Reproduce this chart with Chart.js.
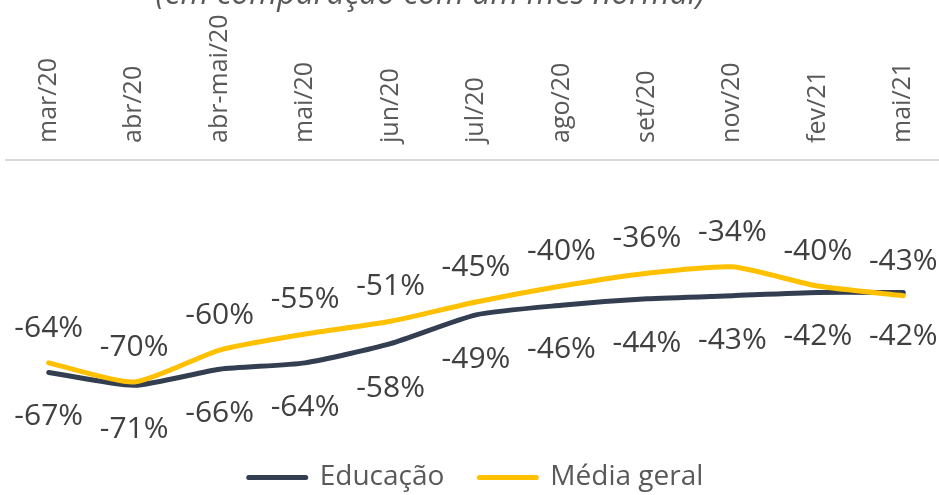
<!DOCTYPE html>
<html>
<head>
<meta charset="utf-8">
<script src="https://cdn.jsdelivr.net/npm/chart.js@4/dist/chart.umd.min.js"></script>
<style>
  html, body { margin: 0; padding: 0; background: #fff; overflow: hidden; }
  #wrap { position: relative; width: 958px; height: 495px; }
</style>
</head>
<body>
<div id="wrap"><canvas id="chart"></canvas></div>
<script>
  const months = ['mar/20', 'abr/20', 'abr-mai/20', 'mai/20', 'jun/20', 'jul/20', 'ago/20', 'set/20', 'nov/20', 'fev/21', 'mai/21'];
  const educacao = [-67, -71, -66, -64, -58, -49, -46, -44, -43, -42, -42];
  const mediaGeral = [-64, -70, -60, -55, -51, -45, -40, -36, -34, -40, -43];

  const NAVY = '#333F50';
  const YELLOW = '#FFC000';
  const GRAY = '#595959';
  const FONT = '"Open Sans", "Noto Sans", sans-serif';
  const TICK_SIZE = 25;

  // value labels: media geral above the line, educacao below
  const valueLabels = {
    id: 'valueLabels',
    afterDatasetsDraw(chart) {
      const ctx = chart.ctx;
      ctx.save();
      ctx.font = '30px ' + FONT;
      ctx.fillStyle = '#404040';
      ctx.textAlign = 'center';
      ctx.textBaseline = 'alphabetic';
      chart.data.datasets.forEach((ds, i) => {
        const meta = chart.getDatasetMeta(i);
        meta.data.forEach((pt, j) => {
          const dy = ds.labelSide === 'above' ? -26 : 53;
          ctx.fillText(ds.data[j] + '%', pt.x, pt.y + dy);
        });
      });
      ctx.restore();
    }
  };

  new Chart(document.getElementById('chart'), {
    type: 'line',
    data: {
      labels: months,
      datasets: [
        {
          label: 'Educação',
          data: educacao,
          borderColor: NAVY,
          backgroundColor: NAVY,
          borderWidth: 5,
          borderCapStyle: 'round',
          pointRadius: 0,
          tension: 0.2,
          labelSide: 'below',
          order: 1
        },
        {
          label: 'Média geral',
          data: mediaGeral,
          borderColor: YELLOW,
          backgroundColor: YELLOW,
          borderWidth: 5,
          borderCapStyle: 'round',
          pointRadius: 0,
          tension: 0.2,
          labelSide: 'above',
          order: 0
        }
      ]
    },
    options: {
      responsive: true,
      maintainAspectRatio: false,
      animation: false,
      layout: { padding: { left: 6, right: 12, top: 0, bottom: -9 } },
      scales: {
        x: {
          position: 'top',
          offset: true,
          grid: { display: false, drawTicks: false },
          border: { display: true, color: '#D9D9D9', width: 2 },
          ticks: {
            color: GRAY,
            font: { family: FONT, size: TICK_SIZE, lineHeight: 1.2 },
            minRotation: 90,
            maxRotation: 90,
            padding: 17,
            // top + rotated labels get pushed one line height to the left
            labelOffset: TICK_SIZE * 1.2,
            autoSkip: false
          }
        },
        y: {
          display: false,
          min: -85.3,
          max: -1.4
        }
      },
      plugins: {
        title: {
          display: true,
          text: '(em comparação com um mês normal)' + '\u00a0'.repeat(11),
          color: GRAY,
          font: { family: FONT, size: 32, style: 'italic', weight: 'normal', lineHeight: 1.2 },
          padding: { top: -24, bottom: -17 }
        },
        legend: {
          position: 'bottom',
          labels: {
            color: GRAY,
            font: { family: FONT, size: 28 },
            usePointStyle: true,
            pointStyle: 'line',
            pointStyleWidth: 57,
            padding: 35,
            sort: (a, b) => a.datasetIndex - b.datasetIndex,
            generateLabels(chart) {
              return chart.data.datasets.map((ds, i) => ({
                text: ds.label,
                datasetIndex: i,
                strokeStyle: ds.borderColor,
                fillStyle: ds.borderColor,
                lineWidth: 5,
                lineCap: 'round',
                pointStyle: 'line',
                fontColor: GRAY,
                hidden: false
              }));
            }
          }
        },
        tooltip: { enabled: false }
      }
    },
    plugins: [valueLabels]
  });
</script>
</body>
</html>
